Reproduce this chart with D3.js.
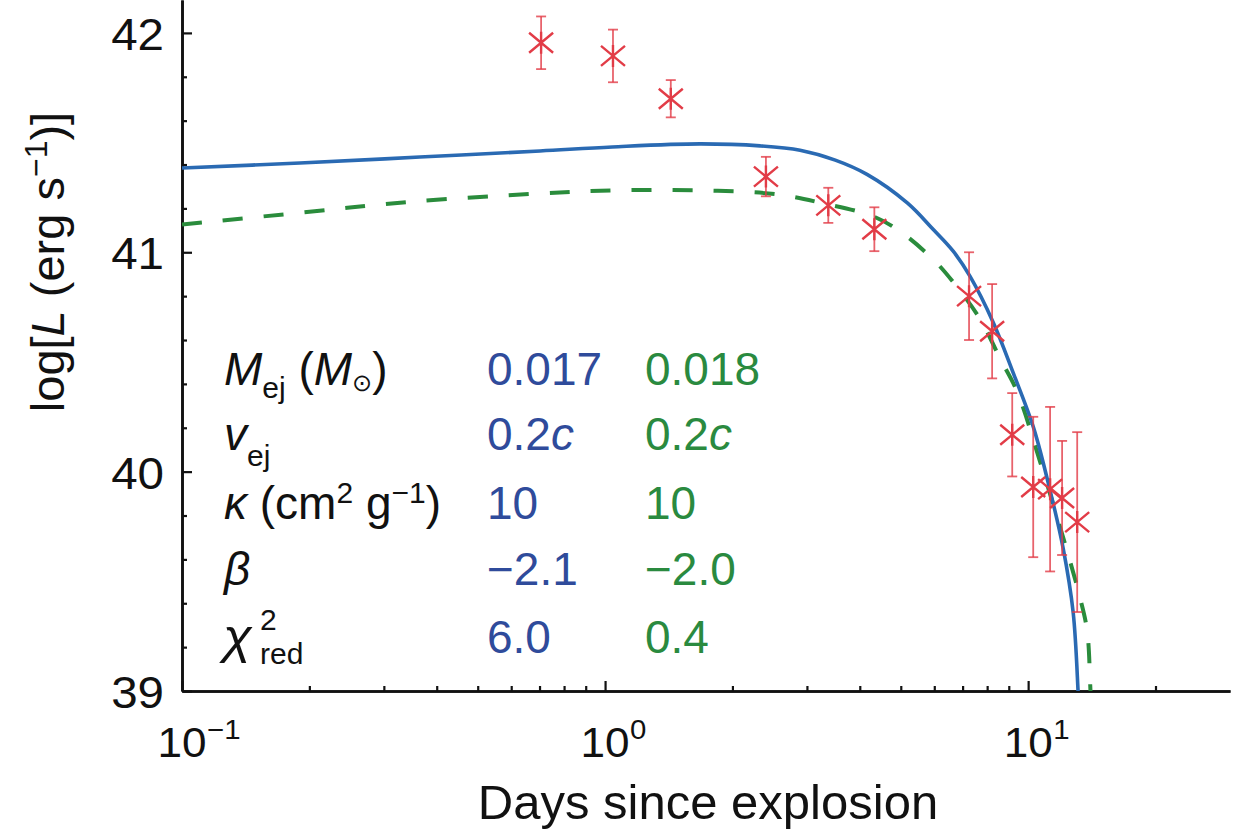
<!DOCTYPE html>
<html>
<head>
<meta charset="utf-8">
<script src="https://cdn.jsdelivr.net/npm/d3@7"></script>
<style>
  html, body { margin: 0; padding: 0; background: #fff; }
  svg { display: block; }
  text { font-family: "Liberation Sans", Arial, Helvetica, sans-serif; }
</style>
</head>
<body>
<svg id="chart" width="1249" height="832"></svg>
<script>
// ---------------- data ----------------
const obsDays = [0.706, 1.044, 1.43, 2.40, 3.37, 4.33, 7.25, 8.22, 9.17, 10.28, 11.27, 12.03, 13.06];
const obsLogL = [41.955, 41.895, 41.70, 41.345, 41.214, 41.105, 40.80, 40.64, 40.168, 39.93, 39.92, 39.88, 39.77];
const obsErr  = [0.12, 0.12, 0.085, 0.09, 0.08, 0.10, 0.20, 0.215, 0.19, 0.32, 0.375, 0.26, 0.41];

const blueDays = [0.1, 0.19, 0.365, 0.702, 1.04, 1.677, 2.325, 2.89, 3.5, 4.16, 5.18, 5.96, 6.65, 7.29, 8.27, 9.22, 10.28, 11.15, 12.10, 12.78, 13.13, 13.2];
const blueLogL = [41.384, 41.407, 41.434, 41.462, 41.480, 41.494, 41.485, 41.465, 41.42, 41.355, 41.225, 41.105, 41.005, 40.89, 40.68, 40.45, 40.205, 39.95, 39.65, 39.356, 38.99, 38.9];

const greenDays = [0.1, 0.19, 0.346, 0.702, 1.04, 1.677, 2.55, 3.28, 4.30, 4.98, 5.96, 6.65, 7.70, 8.59, 9.42, 10.67, 12.37, 13.27, 13.79, 14.02, 14.1];
const greenLogL = [41.127, 41.18, 41.23, 41.268, 41.282, 41.282, 41.264, 41.223, 41.164, 41.095, 40.968, 40.864, 40.695, 40.514, 40.364, 40.045, 39.636, 39.423, 39.273, 39.027, 38.9];

const xMajorTicks = [0.1, 1, 10];
const xTickExponents = ["\u22121", "0", "1"];
const xMinorTicks = [0.2,0.3,0.4,0.5,0.6,0.7,0.8,0.9,2,3,4,5,6,7,8,9,20];
const yMajorTicks = [39, 40, 41, 42];
const yTickLabels = ["39", "40", "41", "42"];
const yMinorTicks = [39.2,39.4,39.6,39.8,40.2,40.4,40.6,40.8,41.2,41.4,41.6,41.8];

const paramBlue  = ["0.017", "0.2c", "10", "\u22122.1", "6.0"];
const paramGreen = ["0.018", "0.2c", "10", "\u22122.0", "0.4"];

// ---------------- layout ----------------
const svg = d3.select("#chart");
const X0 = 182, X1 = 1230, Y0 = 691, Y1 = 0;
const x = d3.scaleLog().domain([0.1, 30]).range([X0, X1]);
const y = d3.scaleLinear().domain([39, 42.15]).range([Y0, Y1]);

const BLUE_LINE = "#2a6ab3", GREEN_LINE = "#2a8c3c", RED = "#e23c47";
const BLUE_TEXT = "#2f4b9b", GREEN_TEXT = "#2a8a3f";

svg.append("defs").append("clipPath").attr("id", "plotclip")
  .append("rect").attr("x", X0).attr("y", Y1).attr("width", X1 - X0).attr("height", Y0 - Y1);

// ---------------- axes ----------------
const yAxisMajor = d3.axisLeft(y).tickValues(yMajorTicks).tickSize(-10).tickSizeOuter(0).tickFormat("");
const yAxisMinor = d3.axisLeft(y).tickValues(yMinorTicks).tickSize(-5).tickSizeOuter(0).tickFormat("");
const xAxisMajor = d3.axisBottom(x).tickValues(xMajorTicks).tickSize(-10).tickSizeOuter(0).tickFormat("");
const xAxisMinor = d3.axisBottom(x).tickValues(xMinorTicks).tickSize(-5).tickSizeOuter(0).tickFormat("");

function styleAxis(g) {
  g.selectAll("path.domain").attr("stroke", "#111").attr("stroke-width", 2.6);
  g.selectAll(".tick line").attr("stroke", "#111").attr("stroke-width", 2.2);
}
svg.append("g").attr("transform", `translate(${X0},0)`).call(yAxisMinor).call(styleAxis);
svg.append("g").attr("transform", `translate(${X0},0)`).call(yAxisMajor).call(styleAxis);
svg.append("g").attr("transform", `translate(0,${Y0})`).call(xAxisMinor).call(styleAxis);
svg.append("g").attr("transform", `translate(0,${Y0})`).call(xAxisMajor).call(styleAxis);

// y tick labels
yMajorTicks.forEach((v, i) => {
  svg.append("text")
    .attr("transform", `translate(164,${y(v) + 17}) scale(1.08,1)`)
    .attr("text-anchor", "end")
    .attr("font-size", 44)
    .attr("fill", "#111")
    .text(yTickLabels[i]);
});

// x tick labels 10^n
xMajorTicks.forEach((v, i) => {
  const g = svg.append("g").attr("transform", `translate(${x(v)},757)`);
  g.append("text").attr("transform", "scale(1.05,1)")
    .attr("text-anchor", "middle").attr("font-size", 42).attr("fill", "#111").text("10");
  g.append("text").attr("transform", "translate(25,-18) scale(1.05,1)")
    .attr("text-anchor", "start").attr("font-size", 28).attr("fill", "#111").text(xTickExponents[i]);
});

// axis titles
svg.append("text")
  .attr("x", 708).attr("y", 819)
  .attr("text-anchor", "middle").attr("font-size", 49).attr("fill", "#111")
  .text("Days since explosion");

const yt = svg.append("text")
  .attr("transform", "translate(64,262) rotate(-90)")
  .attr("text-anchor", "middle").attr("font-size", 47).attr("fill", "#111");
yt.append("tspan").text("log[");
yt.append("tspan").attr("font-style", "italic").text("L");
yt.append("tspan").text(" (erg s");
yt.append("tspan").attr("font-size", 32).attr("dy", -17).text("\u22121");
yt.append("tspan").attr("dy", 17).text(")]");

// ---------------- curves ----------------
const plot = svg.append("g").attr("clip-path", "url(#plotclip)");
const line = d3.line().x(d => x(d[0])).y(d => y(d[1])).curve(d3.curveCatmullRom.alpha(0.5));

plot.append("path")
  .datum(greenDays.map((d, i) => [d, greenLogL[i]]))
  .attr("d", line).attr("fill", "none")
  .attr("stroke", GREEN_LINE).attr("stroke-width", 4).attr("stroke-dasharray", "20,21");

plot.append("path")
  .datum(blueDays.map((d, i) => [d, blueLogL[i]]))
  .attr("d", line).attr("fill", "none")
  .attr("stroke", BLUE_LINE).attr("stroke-width", 3.6);

// ---------------- observed points ----------------
const pts = obsDays.map((d, i) => ({ t: d, L: obsLogL[i], e: obsErr[i] }));
const pg = plot.append("g").selectAll("g").data(pts).join("g")
  .attr("transform", d => `translate(${x(d.t)},${y(d.L)})`);
pg.append("line").attr("x1", 0).attr("x2", 0)
  .attr("y1", d => y(d.L + d.e) - y(d.L)).attr("y2", d => y(d.L - d.e) - y(d.L))
  .attr("stroke", RED).attr("stroke-opacity", 0.8).attr("stroke-width", 1.8);
pg.append("line").attr("x1", -5).attr("x2", 5)
  .attr("y1", d => y(d.L + d.e) - y(d.L)).attr("y2", d => y(d.L + d.e) - y(d.L))
  .attr("stroke", RED).attr("stroke-opacity", 0.8).attr("stroke-width", 1.8);
pg.append("line").attr("x1", -5).attr("x2", 5)
  .attr("y1", d => y(d.L - d.e) - y(d.L)).attr("y2", d => y(d.L - d.e) - y(d.L))
  .attr("stroke", RED).attr("stroke-opacity", 0.8).attr("stroke-width", 1.8);
pg.append("path")
  .attr("d", "M-12,-10L12,10M-12,10L12,-10M0,-11L0,11")
  .attr("stroke", RED).attr("stroke-width", 2.4).attr("fill", "none");

// ---------------- parameter table ----------------
const rowY = [385, 450, 519, 585, 653];
const LX = 224, BX = 487, GX = 645;
const FS = 46, SFS = 30;

function lab(i) {
  return svg.append("text").attr("x", LX).attr("y", rowY[i]).attr("font-size", FS).attr("fill", "#111");
}
// row 1: M_ej (M_sun)
let t1 = lab(0);
t1.append("tspan").attr("font-style", "italic").text("M");
t1.append("tspan").attr("font-size", SFS).attr("dy", 13).text("ej");
t1.append("tspan").attr("dy", -13).text(" (");
t1.append("tspan").attr("font-style", "italic").text("M");
t1.append("tspan").attr("font-size", 24).attr("dy", 6).text("\u2299");
t1.append("tspan").attr("dy", -6).text(")");
// row 2: v_ej
let t2 = lab(1);
t2.append("tspan").attr("font-style", "italic").text("v");
t2.append("tspan").attr("font-size", SFS).attr("dy", 16).text("ej");
// row 3: kappa (cm2 g-1)
let t3 = lab(2);
t3.append("tspan").attr("font-style", "italic").text("\u03ba");
t3.append("tspan").text(" (cm");
t3.append("tspan").attr("font-size", SFS).attr("dy", -16).text("2");
t3.append("tspan").attr("dy", 16).text(" g");
t3.append("tspan").attr("font-size", SFS).attr("dy", -16).text("\u22121");
t3.append("tspan").attr("dy", 16).text(")");
// row 4: beta
lab(3).append("tspan").attr("font-style", "italic").text("\u03b2");
// row 5: chi^2_red (stacked super/subscript)
svg.append("text").attr("transform", `translate(${LX - 1},${rowY[4]}) scale(1.1,1)`)
  .attr("font-size", 48).attr("fill", "#111").attr("font-style", "italic").text("\u03c7");
svg.append("text").attr("x", LX + 36).attr("y", rowY[4] - 23).attr("font-size", SFS).attr("fill", "#111").text("2");
svg.append("text").attr("x", LX + 36).attr("y", rowY[4] + 11).attr("font-size", SFS).attr("fill", "#111").text("red");

function val(xp, i, s, col) {
  const t = svg.append("text").attr("x", xp).attr("y", rowY[i]).attr("font-size", FS).attr("fill", col);
  if (s.endsWith("c")) {
    t.append("tspan").text(s.slice(0, -1));
    t.append("tspan").attr("font-style", "italic").text("c");
  } else {
    t.text(s);
  }
}
paramBlue.forEach((s, i) => val(BX, i, s, BLUE_TEXT));
paramGreen.forEach((s, i) => val(GX, i, s, GREEN_TEXT));
</script>
</body>
</html>
